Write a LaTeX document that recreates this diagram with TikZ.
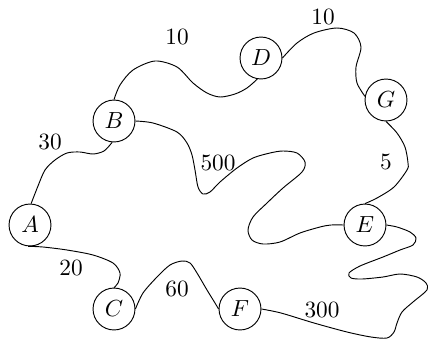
\documentclass[tikz,border=0pt]{standalone}
\begin{document}
% Weighted graph with wandering edges; coordinates are in pixel-like units.
\begin{tikzpicture}[x=0.4292pt, y=-0.4292pt,
  vertex/.style={draw, circle, minimum size=18pt, inner sep=0pt},
  weight/.style={inner sep=0pt},
  wire/.style={line width=0.4pt}]
\useasboundingbox (0,0) rectangle (428,341);

% vertices
\node[vertex] (A) at (30,225) {$A$};
\node[vertex] (B) at (114,121) {$B$};
\node[vertex] (C) at (114,309) {$C$};
\node[vertex] (D) at (261,58) {$D$};
\node[vertex] (G) at (386,100) {$G$};
\node[vertex] (E) at (365,225) {$E$};
\node[vertex] (F) at (240,309) {$F$};

% edges
\draw[wire] plot[smooth] coordinates {(A.87) (38,186) (45,170) (55,160) (67,153) (80,152) (93,154) (104,151) (B.265)};
\draw[wire] plot[smooth] coordinates {(B.north) (120,85) (133,70) (155,61) (177,67) (193,83) (207,93) (220,97) (235,94) (247,88) (D.260)};
\draw[wire] plot[smooth] coordinates {(D.east) (297,43) (314,33) (337,28) (354,33) (361,47) (356,67) (357,83) (G.170)};
\draw[wire] plot[smooth] coordinates {(G.south) (397,133) (405,147) (408,163) (407,170) (394,187) (377,198) (E.north)};
\draw[wire] plot[smooth] coordinates {(B.east) (153,123) (177,132) (187,143) (192,155) (195,170) (198,187) (203,194) (210,192) (220,182) (237,168) (253,158) (270,153) (283,151) (297,153) (305,162) (302,172) (283,188) (267,203) (253,217) (248,230) (252,240) (263,244) (280,242) (300,233) (320,227) (331,225) (E.west)};
\draw[wire] plot[smooth] coordinates {(E.east) (397,227) (410,232) (416,238) (413,245) (400,250) (383,257) (360,266) (349,273) (351,278) (362,279) (383,277) (400,274) (417,277) (426,283) (427,290) (413,302) (402,312) (397,323) (394,332) (387,338) (371,337) (347,332) (314,323) (281,313) (F.east)};
\draw[wire] plot[smooth] coordinates {(C.east) (143,293) (157,277) (170,265) (182,261) (190,263) (197,273) (207,290) (215,303) (F.west)};
\draw[wire] plot[smooth] coordinates {(A.265) (43,247) (67,250) (93,255) (113,263) (120,273) (118,283) (C.north)};

% weights
\node[weight] (wAB) at (50,142) {30};
\node[weight] (wBD) at (177,37) {10};
\node[weight] (wDG) at (323,17) {10};
\node[weight] (wGE) at (386,162) {5};
\node[weight] (wBE) at (218,163) {500};
\node[weight] (wAC) at (71,268) {20};
\node[weight] (wCF) at (177,289) {60};
\node[weight] (wEF) at (322,310) {300};
\end{tikzpicture}
\end{document}
